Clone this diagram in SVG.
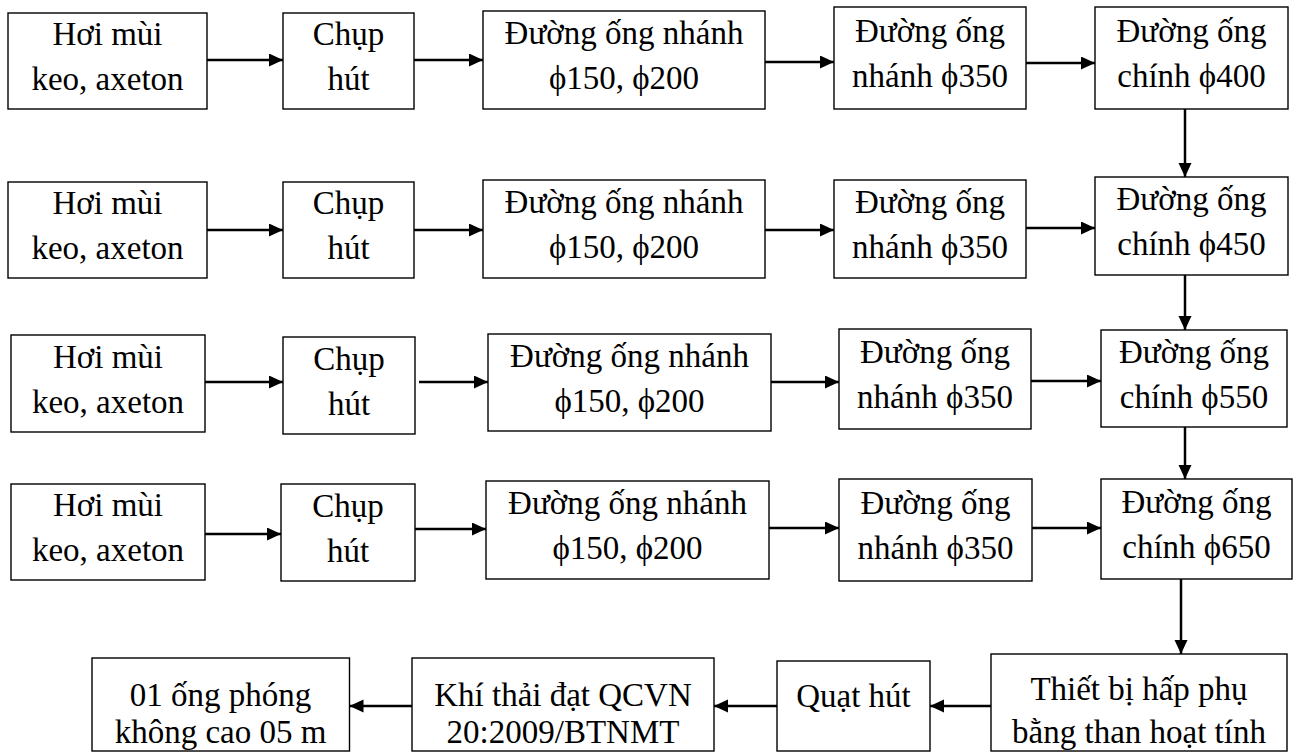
<svg xmlns="http://www.w3.org/2000/svg" width="1300" height="752" viewBox="0 0 1300 752">
<style>
.box{fill:#fff;stroke:#000;stroke-width:1.4}
.t{font-family:"Liberation Serif","Times New Roman",serif;font-size:33px;fill:#000;text-anchor:middle}
.c{stroke:#000;stroke-width:2.5;fill:none;marker-end:url(#ah)}
</style>
<defs>
<marker id="ah" markerUnits="userSpaceOnUse" markerWidth="15" markerHeight="14" refX="14" refY="6.5" orient="auto">
<path d="M0,0 L14,6.5 L0,13 z" fill="#000"/>
</marker>
</defs>
<rect width="1300" height="752" fill="#fff"/>
<g id="connectors">
<line class="c" x1="207" y1="60" x2="283" y2="60"/>
<line class="c" x1="414" y1="60" x2="483" y2="60"/>
<line class="c" x1="765" y1="62" x2="834" y2="62"/>
<line class="c" x1="1026" y1="63" x2="1095" y2="63"/>
<line class="c" x1="1185" y1="109" x2="1185" y2="177"/>
<line class="c" x1="207" y1="230" x2="283" y2="230"/>
<line class="c" x1="414" y1="230" x2="483" y2="230"/>
<line class="c" x1="765" y1="230" x2="834" y2="230"/>
<line class="c" x1="1026" y1="228" x2="1095" y2="228"/>
<line class="c" x1="1185" y1="275" x2="1185" y2="330"/>
<line class="c" x1="205" y1="382" x2="283" y2="382"/>
<line class="c" x1="419" y1="382" x2="488" y2="382"/>
<line class="c" x1="771" y1="382" x2="839" y2="382"/>
<line class="c" x1="1031" y1="381" x2="1101" y2="381"/>
<line class="c" x1="1185" y1="427" x2="1185" y2="479"/>
<line class="c" x1="205" y1="534" x2="281" y2="534"/>
<line class="c" x1="415" y1="529" x2="486" y2="529"/>
<line class="c" x1="769" y1="528" x2="839" y2="528"/>
<line class="c" x1="1032" y1="528" x2="1101" y2="528"/>
<line class="c" x1="1181" y1="579" x2="1181" y2="654"/>
<line class="c" x1="991" y1="706" x2="930" y2="706"/>
<line class="c" x1="777" y1="706" x2="714" y2="706"/>
<line class="c" x1="412" y1="706" x2="349.5" y2="706"/>
</g>
<g id="n1a"><rect class="box" x="8" y="13" width="199" height="96"/><text class="t" x="107.5" y="45">Hơi mùi</text><text class="t" x="107.5" y="90">keo, axeton</text></g>
<g id="n1b"><rect class="box" x="283" y="13" width="131" height="96"/><text class="t" x="348.5" y="45">Chụp</text><text class="t" x="348.5" y="90">hút</text></g>
<g id="n1c"><rect class="box" x="483" y="11" width="282" height="98"/><text class="t" x="624" y="44">Đường ống nhánh</text><text class="t" x="624" y="89">ϕ150, ϕ200</text></g>
<g id="n1d"><rect class="box" x="834" y="7" width="192" height="102"/><text class="t" x="930" y="42">Đường ống</text><text class="t" x="930" y="87">nhánh ϕ350</text></g>
<g id="n1e"><rect class="box" x="1095" y="7" width="193" height="102"/><text class="t" x="1191.5" y="42">Đường ống</text><text class="t" x="1191.5" y="87">chính ϕ400</text></g>

<g id="n2a"><rect class="box" x="8" y="182" width="199" height="96"/><text class="t" x="107.5" y="214">Hơi mùi</text><text class="t" x="107.5" y="259">keo, axeton</text></g>
<g id="n2b"><rect class="box" x="283" y="182" width="131" height="96"/><text class="t" x="348.5" y="214">Chụp</text><text class="t" x="348.5" y="259">hút</text></g>
<g id="n2c"><rect class="box" x="483" y="180" width="282" height="98"/><text class="t" x="624" y="213">Đường ống nhánh</text><text class="t" x="624" y="258">ϕ150, ϕ200</text></g>
<g id="n2d"><rect class="box" x="834" y="180" width="192" height="98"/><text class="t" x="930" y="213">Đường ống</text><text class="t" x="930" y="258">nhánh ϕ350</text></g>
<g id="n2e"><rect class="box" x="1095" y="177" width="193" height="98"/><text class="t" x="1191.5" y="210">Đường ống</text><text class="t" x="1191.5" y="255">chính ϕ450</text></g>

<g id="n3a"><rect class="box" x="11" y="335" width="194" height="97"/><text class="t" x="108" y="367.5">Hơi mùi</text><text class="t" x="108" y="412.5">keo, axeton</text></g>
<g id="n3b"><rect class="box" x="283" y="337" width="132" height="97"/><text class="t" x="349" y="369.5">Chụp</text><text class="t" x="349" y="414.5">hút</text></g>
<g id="n3c"><rect class="box" x="488" y="334" width="283" height="97"/><text class="t" x="629.5" y="366.5">Đường ống nhánh</text><text class="t" x="629.5" y="411.5">ϕ150, ϕ200</text></g>
<g id="n3d"><rect class="box" x="839" y="329" width="192" height="100"/><text class="t" x="935" y="363">Đường ống</text><text class="t" x="935" y="408">nhánh ϕ350</text></g>
<g id="n3e"><rect class="box" x="1101" y="330" width="186" height="97"/><text class="t" x="1194" y="362.5">Đường ống</text><text class="t" x="1194" y="407.5">chính ϕ550</text></g>

<g id="n4a"><rect class="box" x="11" y="484" width="194" height="96"/><text class="t" x="108" y="516">Hơi mùi</text><text class="t" x="108" y="561">keo, axeton</text></g>
<g id="n4b"><rect class="box" x="281" y="484" width="134" height="97"/><text class="t" x="348" y="516.5">Chụp</text><text class="t" x="348" y="561.5">hút</text></g>
<g id="n4c"><rect class="box" x="486" y="481" width="283" height="98"/><text class="t" x="627.5" y="514">Đường ống nhánh</text><text class="t" x="627.5" y="559">ϕ150, ϕ200</text></g>
<g id="n4d"><rect class="box" x="839" y="479" width="193" height="102"/><text class="t" x="935.5" y="514">Đường ống</text><text class="t" x="935.5" y="559">nhánh ϕ350</text></g>
<g id="n4e"><rect class="box" x="1101" y="479" width="191" height="100"/><text class="t" x="1196.5" y="513">Đường ống</text><text class="t" x="1196.5" y="558">chính ϕ650</text></g>

<g id="n5a"><rect class="box" x="92" y="658" width="257.5" height="93"/><text class="t" x="220.5" y="706">01 ống phóng</text><text class="t" x="220.5" y="743">không cao 05 m</text></g>
<g id="n5b"><rect class="box" x="412" y="658" width="302" height="93"/><text class="t" x="563" y="706">Khí thải đạt QCVN</text><text class="t" x="563" y="743">20:2009/BTNMT</text></g>
<g id="n5c"><rect class="box" x="777" y="661" width="153" height="90"/><text class="t" x="853.5" y="707">Quạt hút</text></g>
<g id="n5d"><rect class="box" x="991" y="654" width="296" height="97"/><text class="t" x="1139" y="700">Thiết bị hấp phụ</text><text class="t" x="1139" y="743">bằng than hoạt tính</text></g>
</svg>
